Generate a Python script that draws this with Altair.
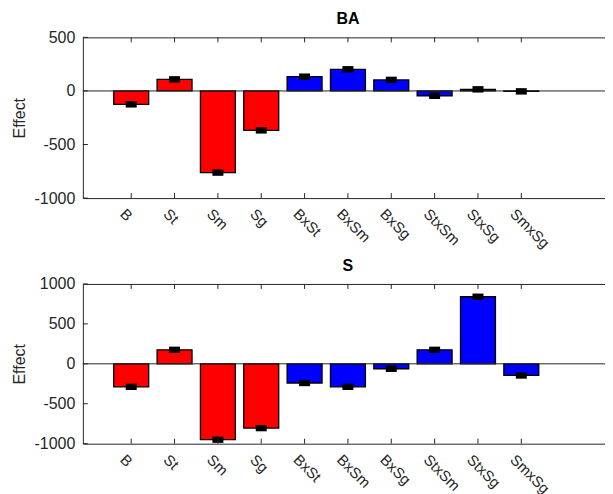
import json
import altair as alt
import pandas as pd

# ---- data ----
terms = ["B", "St", "Sm", "Sg", "BxSt", "BxSm", "BxSg", "StxSm", "StxSg", "SmxSg"]
kinds = ["main"] * 4 + ["interaction"] * 6
positions = list(range(1, 11))

ba_effect = [-125, 108, -762, -368, 133, 202, 103, -45, 15, -4]
ba_err = [30, 30, 30, 30, 30, 30, 30, 30, 30, 30]
ba_ydomain = [-1000, 500]
ba_yticks = [-1000, -500, 0, 500]

s_effect = [-288, 175, -950, -805, -240, -288, -62, 175, 840, -146]
s_err = [40, 40, 40, 40, 40, 40, 40, 40, 40, 40]
s_ydomain = [-1000, 1000]
s_yticks = [-1000, -500, 0, 500, 1000]

kind_domain = ["main", "interaction"]
kind_colors = ["#FF0000", "#0000FF"]

FONT = "Liberation Sans"
TXT = "#262626"
W = 531
XDOMAIN = [0, 12]

label_expr = json.dumps(terms) + "[datum.value - 1]"


def panel(title, effects, errs, ydomain, yticks, h):
    df = pd.DataFrame({
        "pos": positions,
        "term": terms,
        "kind": kinds,
        "effect": effects,
        "lo": [e - r for e, r in zip(effects, errs)],
        "hi": [e + r for e, r in zip(effects, errs)],
    })
    ticks_y = pd.DataFrame({"effect": yticks})
    zero = pd.DataFrame({"effect": [0]})

    xscale = alt.Scale(domain=XDOMAIN, nice=False, zero=False)
    yscale = alt.Scale(domain=ydomain, nice=False)
    xaxis = alt.Axis(values=positions, labelExpr=label_expr, labelAngle=45,
                     labelAlign="left", labelBaseline="top", labelPadding=8,
                     labelOffset=-4, labelOverlap=False, ticks=False,
                     domain=False, grid=False, title=None, labelFontSize=15,
                     labelFont=FONT, labelColor=TXT)
    yaxis = alt.Axis(values=yticks, labelExpr="datum.value + ''", ticks=False,
                     domain=False, grid=False,
                     title="Effect", labelPadding=8, titlePadding=7,
                     labelFontSize=16, labelFont=FONT, labelColor=TXT,
                     titleFontSize=16, titleFont=FONT, titleColor=TXT,
                     titleFontWeight="normal")
    X = alt.X("pos:Q", scale=xscale, axis=xaxis)
    Y = lambda f: alt.Y(f, scale=yscale, axis=yaxis)

    bars = alt.Chart(df).mark_bar(size=35, stroke="black", strokeWidth=1.3).encode(
        x=X, y=Y("effect:Q"),
        color=alt.Color("kind:N", scale=alt.Scale(domain=kind_domain, range=kind_colors), legend=None),
    )
    zline = alt.Chart(zero).mark_rule(color=TXT, strokeWidth=1).encode(y=Y("effect:Q"))
    err = alt.Chart(df).mark_rule(color="black", strokeWidth=11).encode(
        x=X, y=Y("lo:Q"), y2="hi:Q")
    xt_bot = alt.Chart(df).mark_rule(color=TXT, strokeWidth=1).encode(
        x=X, y=alt.value(h), y2=alt.value(h - 5))
    xt_top = alt.Chart(df).mark_rule(color=TXT, strokeWidth=1).encode(
        x=X, y=alt.value(0), y2=alt.value(5))
    yt_left = alt.Chart(ticks_y).mark_rule(color=TXT, strokeWidth=1).encode(
        y=Y("effect:Q"), x=alt.value(0), x2=alt.value(5))
    yt_right = alt.Chart(ticks_y).mark_rule(color=TXT, strokeWidth=1).encode(
        y=Y("effect:Q"), x=alt.value(W - 5), x2=alt.value(W))

    return alt.layer(bars, zline, err, xt_bot, xt_top, yt_left, yt_right).properties(
        width=W, height=h,
        title=alt.TitleParams(title, fontSize=16, font=FONT, fontWeight="bold",
                              color="black", offset=2),
    )


top = panel("BA", ba_effect, ba_err, ba_ydomain, ba_yticks, 161)
bottom = panel("S", s_effect, s_err, s_ydomain, s_yticks, 160)

chart = alt.vconcat(top, bottom, spacing=86, bounds="flush").properties(
    padding={"left": 2, "top": 2, "right": -9, "bottom": 0}
).configure_view(stroke=TXT, strokeWidth=1)

chart.save("out.html", embed_options={"renderer": "svg", "actions": False})
